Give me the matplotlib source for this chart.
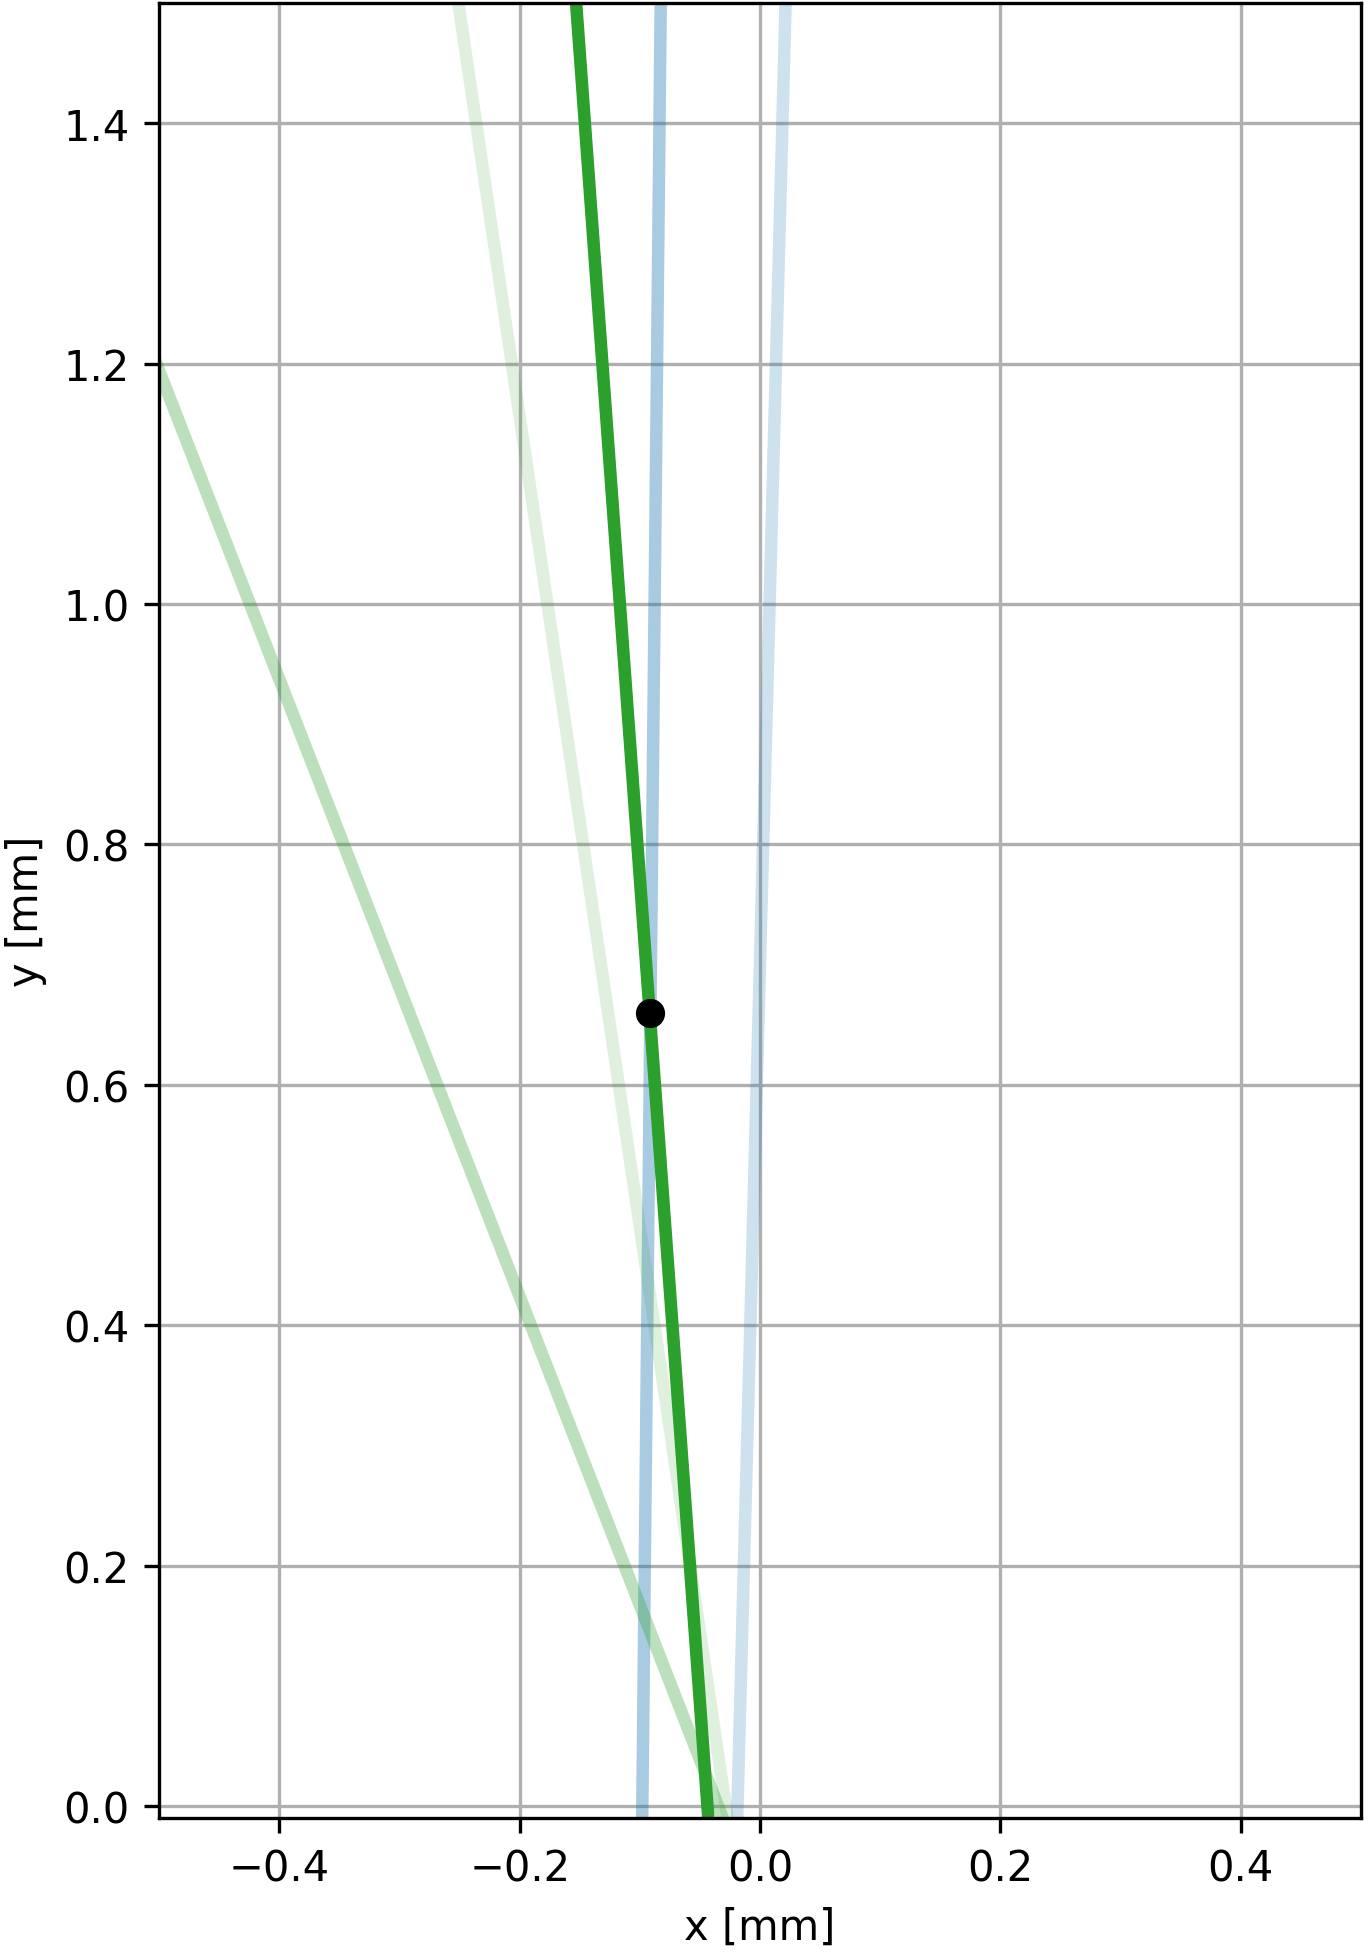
import matplotlib
matplotlib.use('Agg')
from matplotlib import pyplot as plt

# ray endpoints: x position [mm] at y = -0.01 and at y = 1.5
y_ends = [-0.01, 1.5]

blue_light = [-0.019, 0.0213]
blue_mid = [-0.098, -0.0826]

green_lightest = [-0.027, -0.251]
green_mid = [-0.031, -0.619]
green_dark = [-0.043, -0.153]

# intersection point
point_x = [-0.0915]
point_y = [0.66]

fig = plt.figure(figsize=(1369 / 300, 1956 / 300), dpi=300)
ax = fig.add_axes([158.5 / 1369, 137 / 1956, 1203 / 1369, 1815 / 1956])

ax.plot(blue_light, y_ends, color='tab:blue', alpha=0.22, lw=3)
ax.plot(blue_mid, y_ends, color='tab:blue', alpha=0.38, lw=3)
ax.plot(green_lightest, y_ends, color='tab:green', alpha=0.15, lw=3)
ax.plot(green_mid, y_ends, color='tab:green', alpha=0.32, lw=3)
ax.plot(green_dark, y_ends, color='tab:green', lw=3)
ax.plot(point_x, point_y, 'ko')

ax.set_xlim(-0.5, 0.5)
ax.set_ylim(-0.01, 1.5)
ax.set_aspect('equal')
ax.grid(True)
ax.set_xlabel('x [mm]')
ax.set_ylabel('y [mm]')

fig.savefig('out.png', dpi=300)
